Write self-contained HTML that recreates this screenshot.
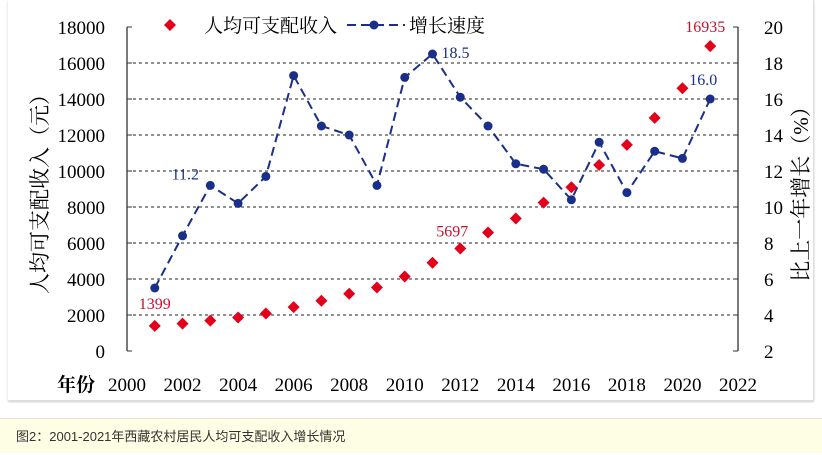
<!DOCTYPE html>
<html><head><meta charset="utf-8"><style>
body{margin:0;width:822px;height:453px;background:#fff;overflow:hidden;font-family:"Liberation Serif","Noto Serif CJK SC",serif}
#cap{position:absolute;left:0;top:418px;width:822px;height:35px;background:#fefee4;border-top:1px solid #e8e8d0;font:13px "Liberation Sans","Noto Sans CJK SC",sans-serif;color:#333;line-height:36px;padding-left:16px;box-sizing:border-box}
#card{position:absolute;left:8px;top:0;width:805px;height:400px;border-right:1px solid #ddd;border-bottom:1px solid #ddd;box-shadow:0 1px 2px #ccc}
</style></head><body>
<div id="card"></div>
<svg id="s" width="822" height="453" style="position:absolute;left:0;top:0"></svg>
<div id="cap">图2：2001-2021年西藏农村居民人均可支配收入增长情况</div>
<script>
const L=127,R=738,T=27,B=351;
const X=y=>L+(y-2000)*(R-L)/22, YL=v=>B-v*(B-T)/18000, YR=v=>B-(v-2)*(B-T)/18;
const inc=[1399,1520,1690,1860,2080,2440,2790,3180,3530,4140,4900,5697,6580,7360,8240,9100,10330,11450,12950,14600,16935];
const gr=[5.5,8.4,11.2,10.2,11.7,17.3,14.5,14.0,11.2,17.2,18.5,16.1,14.5,12.4,12.1,10.4,13.6,10.8,13.1,12.7,16.0];
let h='';
const fs='font-family="Liberation Serif,Noto Serif CJK SC,serif"';
for(let i=1;i<9;i++){let y=YL(i*2000);h+=`<line x1="${L}" x2="${R}" y1="${y}" y2="${y}" stroke="#222" stroke-dasharray="3,3" stroke-width="1"/>`;}
h+=`<line x1="${L}" x2="${L}" y1="${T}" y2="${B}" stroke="#333" stroke-width="1.3"/><line x1="${R}" x2="${R}" y1="${T}" y2="${B}" stroke="#333" stroke-width="1.3"/>`;
for(let i=0;i<=9;i++){let y=YL(i*2000);h+=`<line x1="${L}" x2="${L+5}" y1="${y}" y2="${y}" stroke="#333"/><line x1="${R-5}" x2="${R}" y1="${y}" y2="${y}" stroke="#333"/>`;
h+=`<text x="${L-22}" y="${y+7}" text-anchor="end" font-size="19" ${fs}>${i*2000}</text>`;
h+=`<text x="${R+26}" y="${y+7}" text-anchor="start" font-size="19" ${fs}>${2+i*2}</text>`;}
h+=`<text x="57" y="391" font-size="19" font-weight="bold" ${fs}>年份</text>`;
for(let y=2000;y<=2022;y+=2)h+=`<text x="${X(y)}" y="391" text-anchor="middle" font-size="19" ${fs}>${y}</text>`;
h+=`<text transform="translate(47,189) rotate(-90)" text-anchor="middle" font-size="21" ${fs}>人均可支配收入（元）</text>`;
h+=`<text transform="translate(808,189) rotate(-90)" text-anchor="middle" font-size="21" ${fs}>比上一年增长（%）</text>`;
let p=gr.map((g,i)=>`${X(2001+i)},${YR(g)}`).join(' ');
h+=`<polyline points="${p}" fill="none" stroke="#1a2f8a" stroke-width="2" stroke-dasharray="9,5"/>`;
gr.forEach((g,i)=>h+=`<circle cx="${X(2001+i)}" cy="${YR(g)}" r="4.5" fill="#1a2f8a"/>`);
inc.forEach((v,i)=>{let x=X(2001+i),y=YL(v);h+=`<polygon points="${x},${y-6} ${x+6},${y} ${x},${y+6} ${x-6},${y}" fill="#e3001b"/>`});
h+=`<text x="${X(2001)}" y="${YL(1399)-17}" text-anchor="middle" font-size="16" fill="#c8102e" ${fs}>1399</text>`;
h+=`<text x="${X(2012)-8}" y="${YL(5697)-12}" text-anchor="middle" font-size="16" fill="#c8102e" ${fs}>5697</text>`;
h+=`<text x="${X(2021)-5}" y="32" text-anchor="middle" font-size="16" fill="#c8102e" ${fs}>16935</text>`;
h+=`<text x="${X(2003)-25}" y="${YR(11.2)-6}" text-anchor="middle" font-size="16" fill="#1a2f8a" ${fs}>11.2</text>`;
h+=`<text x="${X(2011)+23}" y="${YR(18.5)+4}" text-anchor="middle" font-size="16" fill="#1a2f8a" ${fs}>18.5</text>`;
h+=`<text x="${X(2021)-7}" y="${YR(16)-14}" text-anchor="middle" font-size="16" fill="#1a2f8a" ${fs}>16.0</text>`;
h+=`<polygon points="170,19 176,25 170,31 164,25" fill="#e3001b"/>`;
h+=`<text x="204" y="32" font-size="19" ${fs}>人均可支配收入</text>`;
h+=`<line x1="347" x2="405" y1="25" y2="25" stroke="#1a2f8a" stroke-width="2" stroke-dasharray="9,5"/><circle cx="374" cy="25" r="4.5" fill="#1a2f8a"/>`;
h+=`<text x="409" y="32" font-size="19" ${fs}>增长速度</text>`;
document.getElementById('s').innerHTML=h;
</script>
</body></html>
